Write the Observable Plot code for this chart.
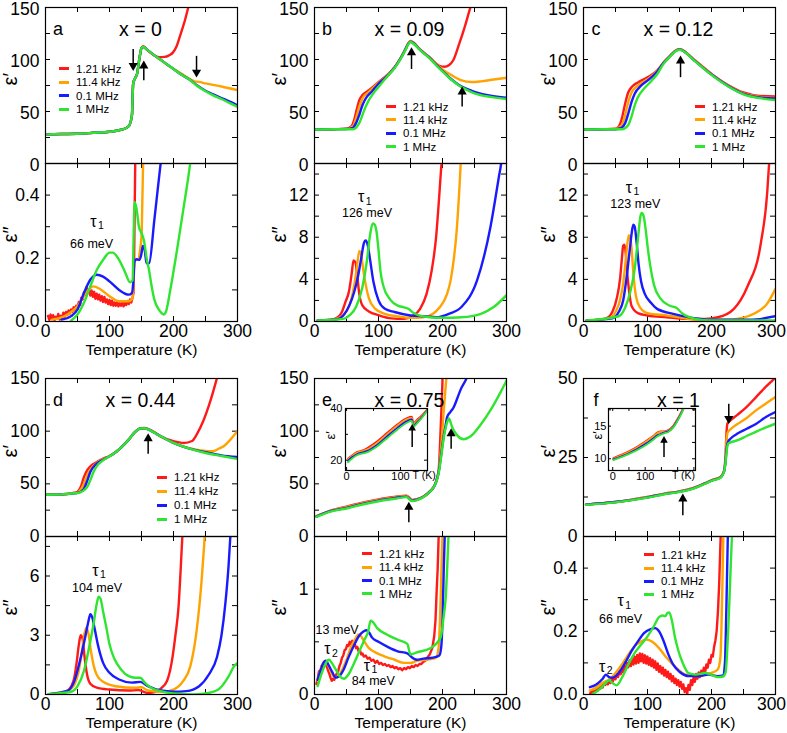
<!DOCTYPE html>
<html>
<head>
<meta charset="utf-8">
<script src="https://cdn.jsdelivr.net/npm/d3@7"></script>
<script src="https://cdn.jsdelivr.net/npm/@observablehq/plot@0.6"></script>
<style>
  body { margin: 0; background: #fff; }
  #fig { position: relative; width: 787px; height: 733px; font-family: "Liberation Sans", Arial, sans-serif; }
  #fig svg { position: absolute; overflow: visible; }
  .leg { position: absolute; height: 14px; line-height: 14px; font-size: 11.5px; white-space: nowrap; color: #000; }
  .leg span { display: inline-block; width: 10px; height: 3px; vertical-align: middle; margin-right: 7px; position: relative; top: -1px; }
</style>
</head>
<body>
<div id="fig"></div>
<script>
// Frequencies and their colours
const FREQS = ["1.21 kHz", "11.4 kHz", "0.1 MHz", "1 MHz"];
const COLORS = ["#ff1a1a", "#ffa300", "#1a1aff", "#2fe52f"];
const PANELS = ["a", "b", "c", "d", "e", "f"];
const TITLES = ["x = 0", "x = 0.09", "x = 0.12", "x = 0.44", "x = 0.75", "x = 1"];

// Axis ticks
const T_MINOR = [0, 50, 100, 150, 200, 250, 300];
const T_LABELS = [0, 100, 200, 300];
const EPS1_MINOR = [0, 25, 50, 75, 100, 125, 150];
const EPS1_LABELS = [0, 50, 100, 150];
const EPS1F_MINOR = [0, 12.5, 25, 37.5, 50];
const EPS1F_LABELS = [0, 25, 50];
const EPS2_SMALL_MINOR = [0, 0.1, 0.2, 0.3, 0.4, 0.5];
const EPS2_SMALL_LABELS = [0, 0.2, 0.4];
const EPS2_BC_MINOR = [0, 2, 4, 6, 8, 10, 12, 14];
const EPS2_BC_LABELS = [0, 4, 8, 12];
const EPS2_D_MINOR = [0, 1.5, 3, 4.5, 6, 7.5];
const EPS2_D_LABELS = [0, 3, 6];
const EPS2_E_MINOR = [0, 0.5, 1, 1.5];
const EPS2_E_LABELS = [0, 1];

// ---- x = 0 ----  each entry: [T (K), value]; order 1.21 kHz, 11.4 kHz, 0.1 MHz, 1 MHz
const aPrime = [
  [[3,28],[25,28.3],[50,28.6],[75,29.5],[100,30.5],[120,32.7],[130,35.8],[135,46],[137,77],[140,82],[143,86],[147,102],[150,111],[152.5,112.8],[160,108.5],[170,104],[178,102.2],[186,102.5],[193,104],[199,106.6],[205,113],[210,122.3],[214,130],[218,138],[223,150],[228,162]],
  [[3,28],[25,28.3],[50,28.6],[75,29.5],[100,30.5],[120,32.7],[130,35.8],[135,46],[137,77],[140,82],[143,86],[147,102],[150,111],[152.5,112.3],[160,108.8],[170,104],[180,99.7],[190,95.2],[200,91],[212,86.5],[225,81.5],[233,79],[240,78.5],[250,77],[275,74],[300,70.5]],
  [[3,28],[25,28.3],[50,28.6],[75,29.5],[100,30.5],[120,32.7],[130,35.8],[135,46],[137,77],[140,82],[143,86],[147,102],[150,111],[152.5,112],[160,108.8],[170,104],[180,99.7],[190,95.2],[200,90.9],[212,85.5],[225,80.8],[236,75.5],[250,70],[262,66.5],[275,63],[288,59.5],[300,56]],
  [[3,28],[25,28.3],[50,28.6],[75,29.5],[100,30.5],[120,32.7],[130,35.8],[135,46],[137,77],[140,82],[143,86],[147,102],[150,111],[152.5,112],[160,108.8],[170,104],[180,99.7],[190,95.2],[200,90.9],[212,85.5],[225,80.8],[236,75],[250,69.5],[262,65.5],[275,62],[288,58],[300,54.4]]
];
const aSecond = [
  [[4,0.018],[6,0.005],[8,0.022],[10,0.008],[12,0.02],[14,0.004],[16,0.015],[18,0.01],[20,0.024],[22,0.006],[24,0.018],[26,0.012],[28,0.028],[30,0.015],[32,0.03],[34,0.02],[36,0.035],[38,0.025],[40,0.038],[42,0.03],[44,0.045],[46,0.035],[48,0.05],[50,0.045],[52,0.062],[54,0.052],[56,0.075],[58,0.07],[60,0.092],[62,0.085],[64,0.108],[66,0.09],[68,0.1],[70,0.082],[72,0.098],[74,0.078],[76,0.094],[78,0.072],[80,0.088],[82,0.07],[84,0.085],[86,0.066],[88,0.08],[90,0.062],[92,0.078],[94,0.06],[96,0.07],[98,0.055],[100,0.068],[102,0.052],[104,0.066],[106,0.05],[108,0.06],[110,0.05],[112,0.062],[114,0.048],[116,0.058],[118,0.05],[120,0.06],[122,0.048],[124,0.062],[126,0.052],[128,0.065],[130,0.055],[132,0.07],[134,0.06],[136,0.075],[137.5,0.09],[138.5,0.2],[139.5,0.38],[140.5,0.55]],
  [[10,0.006],[20,0.01],[30,0.017],[40,0.03],[50,0.048],[58,0.075],[65,0.095],[75,0.111],[85,0.103],[100,0.08],[115,0.064],[130,0.064],[136,0.074],[138.5,0.17],[141,0.195],[145,0.197],[148,0.23],[150,0.27],[151.5,0.4],[153,0.55]],
  [[25,0.006],[40,0.017],[50,0.038],[60,0.09],[70,0.132],[80,0.148],[90,0.142],[100,0.127],[115,0.1],[130,0.085],[135,0.09],[137,0.12],[139,0.19],[142,0.197],[147,0.195],[150,0.215],[152,0.239],[155,0.226],[158,0.184],[162,0.185],[170,0.32],[176,0.43],[181,0.52]],
  [[40,0.003],[50,0.022],[60,0.059],[70,0.111],[80,0.163],[90,0.195],[100,0.218],[105,0.218],[115,0.195],[125,0.153],[132,0.124],[136,0.13],[138,0.3],[139,0.378],[142,0.36],[146,0.3],[150,0.28],[154,0.255],[158,0.2],[162,0.16],[166,0.11],[170,0.07],[177,0.038],[185,0.022],[188,0.03],[195,0.1],[205,0.22],[215,0.35],[226,0.5],[229,0.55]]
];

// ---- x = 0.09 ----
const bPrime = [
  [[2,32.7],[30,33],[50,33.5],[58,36],[62,42],[66,52],[70,61],[75,65.8],[85,70.5],[100,78.3],[115,86],[125,92.5],[135,101.9],[142,110],[147,116],[150,117.8],[154,116.5],[165,109.7],[180,101.9],[195,94],[203,93],[210,94.5],[217,99.5],[225,113],[235,131.8],[243,149],[250,162]],
  [[2,32.7],[30,33],[50,33.3],[60,35.8],[65,43.7],[70,54.7],[75,62.5],[85,68.9],[100,77.5],[115,85.5],[125,92.2],[135,101.7],[142,109.8],[147,115.8],[150,117.5],[154,116.3],[165,109.5],[180,101.7],[190,96],[200,90.5],[215,84.6],[230,79.9],[245,78.3],[260,79],[280,80.8],[300,82.4]],
  [[2,32.7],[30,33],[50,33.2],[60,34.3],[65,39],[70,46.9],[75,56.3],[80,62.5],[90,69.5],[100,76.7],[115,85],[125,92],[135,101.5],[142,109.5],[147,115.5],[150,117.2],[154,116],[165,109.3],[180,101.5],[190,95],[200,89],[212,82],[225,75.8],[237,72],[250,68.9],[275,65.1],[300,63.2]],
  [[2,32.7],[30,33],[50,33],[60,33],[65,34.6],[70,38.9],[75,46.9],[80,54.7],[85,61],[90,65.8],[100,73.6],[115,84.6],[125,91.5],[135,101],[142,109],[147,115],[150,116.8],[154,115.5],[165,109],[180,101],[190,94.5],[200,88.5],[212,81.5],[225,75.3],[237,71],[250,67.5],[275,64],[300,62]]
];
const bSecond = [
  [[5,0.1],[25,0.15],[35,0.35],[42,0.8],[48,1.8],[54,2.9],[58,4.5],[61,5.8],[64,5.6],[67,4.2],[70,2.6],[75,1.5],[85,0.95],[100,0.6],[120,0.3],[140,0.25],[155,0.57],[165,1.2],[175,2.6],[183,4.8],[190,8],[195,12],[199,15.5],[201,17]],
  [[5,0.1],[30,0.2],[40,0.4],[50,0.95],[57,2],[62,3.4],[66,5],[70,6.7],[73,6.3],[76,5],[80,3.5],[85,2.2],[95,1.2],[110,0.73],[130,0.48],[150,0.35],[170,0.4],[185,0.73],[195,1.3],[207,2.6],[213,4],[218,6.1],[222,8.5],[226,12.2],[229,15.5],[231,17]],
  [[5,0.1],[35,0.2],[45,0.57],[55,1.6],[62,2.8],[68,4.3],[73,6],[77,7.4],[80,7.7],[83,7.3],[87,5.8],[92,3.8],[100,2],[110,1.2],[125,0.9],[150,0.57],[175,0.48],[190,0.4],[210,0.73],[230,1.4],[254,3.9],[275,9],[288,13.7],[292,15.2],[294,16.5]],
  [[5,0.1],[45,0.25],[55,0.6],[65,1.4],[75,3.3],[82,5.8],[87,8.3],[91,9.3],[94,9.2],[97,8.5],[100,6.8],[103,4.8],[108,3.3],[118,2.1],[130,1.5],[140,1.35],[147,1.2],[155,0.8],[165,0.55],[180,0.4],[200,0.35],[230,0.4],[260,0.73],[280,1.37],[300,2.5]]
];

// ---- x = 0.12 ----
const cPrime = [
  [[2,32.7],[30,33],[50,33.5],[55,35.5],[60,43.4],[65,57.5],[70,68.5],[75,73.3],[85,78],[100,82.9],[115,89.3],[125,97.1],[135,103.5],[145,109.1],[150,110],[155,109],[160,106.8],[175,98.8],[200,86.2],[225,75.8],[250,68.3],[275,65],[300,64.5]],
  [[2,32.7],[30,33],[50,33.2],[55,34.5],[60,37.1],[65,46.5],[70,59],[75,68],[85,74.9],[100,81],[115,88.8],[125,96.8],[135,103.3],[145,108.9],[150,109.8],[155,108.8],[160,106.6],[175,98.5],[200,85.8],[225,75.2],[250,67.5],[275,64],[300,63]],
  [[2,32.7],[30,33],[50,33],[55,33.5],[60,34.6],[65,38.7],[70,48.1],[75,59],[80,67],[90,74.9],[100,79.7],[115,88.3],[125,96.5],[135,103.1],[145,108.7],[150,109.6],[155,108.6],[160,106.4],[175,98.2],[200,85.5],[225,74.9],[250,67],[275,63.5],[300,62.5]],
  [[2,32.7],[30,33],[50,33],[60,33],[70,37.1],[75,45],[80,56],[85,63.7],[95,72.3],[105,78.6],[115,85.8],[125,95.8],[135,102.8],[145,108.5],[150,109.4],[155,108.4],[160,106.2],[175,98],[200,85.2],[225,74.5],[250,66.5],[275,62.8],[300,61]]
];
const cSecond = [
  [[5,0.1],[35,0.3],[45,0.9],[52,2.2],[57,4],[60,6],[62,7.2],[64,7.3],[66,6.5],[68,4.8],[71,3],[75,1.5],[85,0.8],[100,0.57],[130,0.4],[160,0.25],[190,0.25],[210,0.4],[235,1.2],[256,3.3],[277,7.4],[287,12.2],[290,15],[292,16.5]],
  [[5,0.1],[40,0.3],[50,0.9],[57,2],[62,3.6],[66,5.8],[69,7.6],[71,8.2],[73,8],[75,7],[78,4.5],[82,2.4],[88,1.37],[100,0.8],[130,0.57],[150,0.4],[175,0.16],[220,0.16],[240,0.25],[266,0.73],[287,1.7],[300,3.1]],
  [[5,0.1],[45,0.3],[55,0.9],[62,2],[68,4.5],[73,7.2],[76,8.7],[78,9.2],[80,9],[83,7.5],[86,5.5],[90,3.8],[96,2.6],[105,1.8],[115,1.2],[140,0.73],[170,0.35],[200,0.16],[260,0.16],[300,0.5]],
  [[5,0.1],[55,0.5],[65,1.3],[73,2.8],[80,5],[85,7.8],[89,10],[91,10.3],[94,10],[97,8.8],[100,7.2],[104,5.4],[110,3.5],[120,2.2],[135,1.5],[145,1.3],[155,0.73],[175,0.25],[200,0.1],[300,0.1]]
];

// ---- x = 0.44 ----
const dPrime = [
  [[2,39.6],[25,40],[45,41.5],[50,42.5],[55,46.9],[60,56.4],[65,62.8],[70,66.6],[80,70.7],[90,73.9],[100,76.4],[110,80.2],[120,85.6],[130,92],[140,99.3],[148,102.8],[155,103],[165,100.8],[180,95.1],[200,90.5],[216,88.8],[229,90.7],[237,97.7],[247,110.4],[258,129.4],[267,148.4],[272,160]],
  [[2,39.6],[25,40],[45,41.2],[50,42],[55,44.4],[60,50.1],[65,58],[70,63.4],[80,69.8],[90,73.6],[100,76.2],[110,80.2],[120,85.6],[130,92],[140,99.3],[148,102.7],[155,102.9],[165,100.6],[180,95.1],[200,88.8],[220,84.5],[242,81.8],[255,81],[263,81.2],[271,83.5],[279,86],[289,92],[300,100.2]],
  [[2,39.6],[25,40],[45,41],[50,41.5],[55,42.5],[60,45.3],[65,52.6],[70,61.2],[80,69.1],[90,72.9],[100,76.1],[110,80.2],[120,85.6],[130,92],[140,99.3],[148,102.5],[155,102.7],[165,100.3],[180,95.1],[200,88.8],[225,83.4],[250,80],[275,77],[300,75.5]],
  [[2,39.6],[25,40],[45,41],[50,41.2],[55,42.2],[60,43.8],[65,47],[70,53.3],[75,61.2],[80,66.6],[90,72.3],[100,76.1],[110,80.2],[120,85.6],[130,92],[140,99.3],[148,102.5],[155,102.7],[165,100.2],[180,95.1],[200,88.8],[225,83.4],[250,79.3],[275,76.4],[300,73.6]]
];
const dSecond = [
  [[25,0],[33,0.15],[40,0.4],[45,0.85],[49,1.7],[52,2.5],[55,3],[58,2.8],[61,1.9],[65,1.0],[70,0.55],[80,0.35],[100,0.25],[130,0.2],[145,0.22],[160,0.08],[170,0.12],[180,0.3],[190,0.7],[197,1.6],[203,3],[208,4.5],[211,6.2],[214,8.1],[216,9]],
  [[5,0.02],[35,0.2],[45,0.5],[52,1.2],[57,2.2],[61,3.1],[64,3.4],[67,3.1],[71,2.2],[75,1.5],[80,1.0],[90,0.64],[110,0.42],[140,0.34],[150,0.37],[160,0.2],[185,0.14],[200,0.25],[215,0.68],[226,1.4],[236,3.2],[244,5.8],[249,8.1],[251,9]],
  [[5,0.02],[35,0.2],[45,0.68],[55,1.86],[62,2.9],[67,3.7],[70,4.07],[73,3.9],[77,3.3],[82,2.5],[90,1.6],[100,1.1],[115,0.76],[135,0.6],[148,0.64],[160,0.42],[180,0.2],[200,0.14],[220,0.17],[240,0.42],[255,1.0],[268,1.9],[275,3.0],[281,4.6],[286,6.5],[289,8.1],[291,9]],
  [[5,0.02],[40,0.14],[50,0.42],[60,1.19],[68,2.37],[75,3.56],[80,4.58],[83,4.95],[86,4.85],[90,4.2],[95,3.4],[100,2.54],[108,1.78],[118,1.27],[130,0.93],[140,0.85],[148,0.85],[155,0.6],[165,0.34],[180,0.17],[200,0.05],[230,0.0],[250,0.05],[270,0.25],[285,0.85],[295,1.44],[300,1.6]]
];

// ---- x = 0.75 ----
const ePrime = [
  [[3,19.3],[25,24.6],[50,28.3],[75,32.2],[100,35.3],[125,37.5],[144,38.8],[148,37],[152,34.8],[160,35.5],[171,38.3],[181,43.3],[189,50.5],[194,63],[197,100],[199.5,140],[201,165]],
  [[3,19.1],[25,24.3],[50,27.8],[75,31.6],[100,34.7],[125,37],[144,38.4],[148,36.5],[152,34.5],[160,35.2],[171,38.1],[181,43.2],[189,50.3],[194,62],[198,85],[202,120],[206,150],[208,165]],
  [[3,18.9],[25,24],[50,27.2],[75,31],[100,34.1],[125,36.4],[144,37.9],[148,36],[152,34.1],[160,34.9],[171,38],[181,43.1],[189,50.1],[194,61],[198,78],[202,96],[205,106],[207.3,113.5],[212.5,118.3],[217.7,123],[223,131],[228,139],[238.5,151.6],[241,156]],
  [[3,18.6],[25,23.6],[50,26.6],[75,30.4],[100,33.5],[125,35.8],[144,37.4],[148,35.6],[152,33.7],[160,34.6],[171,37.8],[181,43],[189,50],[194,60],[198,76],[202,94],[206,106],[210,112],[215,104],[223,96],[233,92.3],[244,95.1],[259,105.6],[275,119.9],[291,137.3],[300,148]]
];
const eInset = [
  [[2.5,20.6],[10,21.8],[20,23.2],[30,23.8],[38.5,24.7],[57,27.3],[75.5,30.6],[94,33.8],[112,36.3],[121,36.8],[124,34.3],[130,35.5],[139.5,37.3],[149,39.6]],
  [[2.5,20.3],[10,21.5],[20,22.9],[30,23.5],[38.5,24.2],[57,26.8],[75.5,30.1],[94,33.3],[112,35.9],[121,36.4],[124,33.9],[130,35.1],[139.5,37],[149,39.4]],
  [[2.5,19.8],[10,21.1],[20,22.4],[30,23],[38.5,23.6],[57,26],[75.5,29.3],[94,32.5],[112,35.1],[121,35.8],[124,33.2],[130,34.5],[139.5,36.6],[149,39.2]],
  [[2.5,19.2],[10,20.6],[20,22],[30,22.6],[38.5,23.1],[57,25.4],[75.5,28.6],[94,31.8],[112,34.5],[121,35.2],[124,32.8],[130,34.1],[139.5,36.3],[149,39]]
];
const eSecond = [
  [[3,0.1],[5,0.15],[7,0.22],[9,0.2],[11,0.27],[13,0.25],[15,0.31],[17,0.28],[19,0.27],[21,0.23],[23,0.2],[25,0.16],[27,0.13],[29,0.15],[31,0.14],[33,0.18],[35,0.2],[37,0.22],[39,0.27],[41,0.3],[43,0.35],[45,0.37],[47,0.42],[49,0.43],[51,0.47],[53,0.46],[55,0.5],[57,0.48],[59,0.51],[61,0.47],[63,0.48],[65,0.44],[67,0.45],[69,0.41],[71,0.42],[73,0.38],[75,0.39],[77,0.36],[80,0.37],[83,0.34],[86,0.35],[89,0.32],[92,0.33],[95,0.3],[98,0.32],[101,0.29],[104,0.3],[107,0.28],[110,0.29],[113,0.27],[116,0.28],[119,0.26],[122,0.27],[125,0.25],[128,0.26],[131,0.24],[134,0.25],[137,0.23],[140,0.25],[143,0.24],[146,0.26],[149,0.25],[152,0.27],[155,0.26],[158,0.28],[161,0.27],[164,0.29],[167,0.29],[170,0.31],[173,0.32],[176,0.35],[180,0.38],[184,0.44],[187,0.55],[189,0.7],[191,1.0],[192.5,1.2],[194,1.5],[195,1.6]],
  [[5,0.13],[10,0.25],[15,0.31],[18,0.31],[22,0.27],[27,0.2],[32,0.16],[37,0.17],[43,0.23],[50,0.33],[57,0.45],[63,0.52],[69,0.57],[72,0.56],[77,0.51],[85,0.44],[95,0.4],[110,0.36],[125,0.33],[140,0.3],[150,0.3],[160,0.32],[175,0.33],[185,0.34],[190,0.35],[194,0.45],[196,0.7],[198,1.1],[200,1.5],[201,1.6]],
  [[5,0.14],[10,0.24],[15,0.31],[18,0.32],[22,0.28],[28,0.21],[33,0.16],[38,0.17],[45,0.23],[53,0.35],[62,0.47],[70,0.56],[77,0.6],[81,0.61],[85,0.59],[90,0.54],[100,0.5],[115,0.45],[130,0.41],[145,0.39],[155,0.34],[160,0.33],[170,0.34],[185,0.35],[195,0.37],[198,0.45],[200,0.7],[202,1.2],[204,1.6]],
  [[5,0.08],[10,0.18],[15,0.26],[20,0.32],[23,0.33],[27,0.3],[33,0.24],[40,0.17],[46,0.15],[53,0.19],[62,0.3],[70,0.41],[78,0.52],[84,0.6],[87.5,0.7],[91,0.69],[98,0.63],[113,0.57],[130,0.52],[145,0.48],[150,0.38],[160,0.4],[181,0.44],[197,0.54],[202,0.75],[205,0.92],[208,1.3],[210,1.6]]
];

// ---- x = 1 ----
const fPrime = [
  [[4,10.1],[50,10.9],[100,12.5],[125,13.5],[150,14.3],[175,15.6],[190,16.9],[200,17.8],[214,18.8],[220,20.9],[222,26],[223.5,33],[225,35.8],[230,36.8],[240,38.4],[255,41],[270,44.2],[285,47.4],[300,50.3]],
  [[4,10.1],[50,10.9],[100,12.5],[125,13.5],[150,14.3],[175,15.6],[190,16.9],[200,17.8],[214,18.8],[220,20.9],[222,25],[223.5,30.5],[225,32.8],[230,34],[240,35.5],[255,37.5],[270,40],[285,42.1],[300,44.2]],
  [[4,10.1],[50,10.9],[100,12.4],[125,13.4],[150,14.2],[175,15.5],[190,16.8],[200,17.7],[214,18.7],[220,20.9],[222,24],[224,28.5],[226,30],[230,31],[240,32.5],[255,34.1],[270,35.7],[285,37.8],[300,39.4]],
  [[4,10],[50,10.8],[100,12.3],[125,13.3],[150,14.1],[175,15.4],[190,16.7],[200,17.6],[214,18.6],[220,20.8],[222,23.5],[224,27.5],[226,29.4],[230,29.8],[240,30.4],[255,31.8],[270,33.2],[285,34.5],[300,35.7]]
];
const fInset = [
  [[2,10.1],[53,11.2],[105,12.8],[125,13.5],[137,14],[148,14.2],[158,14.2],[171,14.4],[187,15.1],[203,16.4],[218,17.9],[225,18.8]],
  [[2,10],[53,11.1],[105,12.7],[125,13.4],[137,13.9],[148,14.1],[158,14.1],[171,14.3],[187,15],[203,16.3],[218,17.8],[225,18.7]],
  [[2,9.9],[53,10.9],[105,12.4],[125,13.1],[137,13.6],[148,13.8],[158,14],[171,14.2],[187,14.9],[203,16.2],[218,17.7],[225,18.6]],
  [[2,9.8],[53,10.8],[105,12.2],[125,12.9],[137,13.4],[148,13.7],[158,13.9],[171,14.1],[187,14.8],[203,16.1],[218,17.6],[225,18.5]]
];
const fSecond = [
  [[10,0.0],[12,0.012],[14,0.005],[16,0.018],[18,0.008],[20,0.022],[22,0.012],[24,0.028],[26,0.018],[28,0.032],[30,0.022],[32,0.038],[34,0.03],[36,0.042],[38,0.032],[40,0.046],[42,0.036],[44,0.052],[46,0.042],[48,0.058],[50,0.048],[52,0.066],[54,0.055],[56,0.075],[58,0.064],[60,0.082],[62,0.07],[64,0.09],[66,0.078],[68,0.1],[70,0.086],[72,0.108],[74,0.09],[76,0.115],[78,0.095],[80,0.12],[82,0.098],[84,0.125],[86,0.1],[88,0.13],[90,0.105],[92,0.128],[94,0.1],[96,0.124],[98,0.098],[100,0.12],[102,0.094],[104,0.115],[106,0.09],[108,0.11],[110,0.085],[112,0.105],[114,0.078],[116,0.098],[118,0.072],[120,0.09],[122,0.066],[124,0.085],[126,0.06],[128,0.078],[130,0.055],[132,0.072],[134,0.05],[136,0.065],[138,0.042],[140,0.058],[142,0.036],[144,0.05],[146,0.03],[148,0.045],[150,0.025],[152,0.04],[154,0.018],[156,0.032],[158,0.008],[160,0.02],[162,0.002],[164,0.03],[166,0.015],[168,0.045],[170,0.03],[172,0.055],[174,0.04],[176,0.065],[178,0.05],[180,0.07],[182,0.055],[184,0.075],[186,0.06],[188,0.085],[190,0.07],[192,0.095],[194,0.085],[196,0.11],[198,0.1],[200,0.125],[202,0.12],[204,0.15],[206,0.17],[208,0.2],[210,0.26],[212,0.35],[214,0.48],[215,0.55]],
  [[10,0.013],[20,0.021],[30,0.037],[40,0.047],[50,0.068],[60,0.095],[70,0.126],[80,0.153],[90,0.168],[98,0.174],[110,0.163],[120,0.142],[130,0.116],[145,0.084],[160,0.063],[175,0.061],[190,0.065],[200,0.068],[210,0.08],[214,0.12],[216,0.25],[218,0.45],[219,0.55]],
  [[10,0.023],[20,0.032],[30,0.05],[35,0.063],[40,0.055],[45,0.053],[55,0.068],[65,0.1],[75,0.137],[85,0.168],[95,0.195],[105,0.207],[112,0.21],[118,0.2],[125,0.17],[132,0.13],[140,0.095],[150,0.072],[165,0.058],[180,0.058],[195,0.063],[210,0.058],[218,0.06],[221,0.1],[223,0.25],[225,0.45],[226,0.55]],
  [[15,0.002],[25,0.016],[35,0.037],[40,0.045],[45,0.037],[52,0.029],[60,0.053],[70,0.095],[80,0.132],[90,0.158],[100,0.184],[110,0.216],[118,0.245],[124,0.25],[128,0.248],[131,0.258],[134,0.26],[138,0.235],[143,0.18],[148,0.14],[154,0.105],[164,0.068],[175,0.063],[190,0.068],[200,0.062],[210,0.055],[218,0.057],[222,0.07],[226,0.2],[229,0.35],[232,0.5],[234,0.56]]
];

// Arrows marking transitions: [T, tail value, head value]
const aArrows = [[137,110,94],[153.6,80,94],[236,103.5,87.7]];
const bArrows = [[151.6,90.9,106.6],[230.7,54.7,68.9]];
const cArrows = [[151.6,83,98.8]];
const dArrows = [[160.4,78.6,92.9]];
const eArrows = [[147.4,13.6,27.9],[213.5,83.4,97.7]];
const fArrows = [[227,42,37.3],[155.2,6.7,11.9]];
const eInsetArrows = [[121.6,25.1,32.3]];
const fInsetArrows = [[158,10.25,12.8]];

// Relaxation labels: [T, value, subscript] and [T, value, activation energy]
const aTau = [[75,0.315,"1"]], aEnergy = [[72,0.245,"66 meV"]];
const bTau = [[73,11.8,"1"]], bEnergy = [[82,10.3,"126 meV"]];
const cTau = [[71,12.7,"1"]], cEnergy = [[81,11.2,"123 meV"]];
const dTau = [[78,6.25,"1"]], dEnergy = [[80.5,5.4,"104 meV"]];
const eTau = [[20,0.43,"2"],[82,0.27,"1"]], eEnergy = [[35.4,0.61,"13 meV"],[92,0.125,"84 meV"]];
const fTau = [[29,0.089,"2"],[58,0.295,"1"]], fEnergy = [[58,0.24,"66 meV"]];

const FONT = "'Liberation Sans', Arial, Helvetica, sans-serif";
const FW = 192, FH = 158;
const COL_X = [45, 314, 583];
const fig = document.getElementById("fig");

function subplot(s) {
  const W = s.fw ?? FW, H = s.fh ?? FH;
  const mL = 60, mR = 12, mT = 12, mB = 50;
  const tick = s.tick ?? 5;
  const fs = s.fs ?? 17.5;
  const k = {stroke: "black", strokeWidth: 1};
  const marks = [];
  if (s.background) marks.push(Plot.frame({fill: "white", stroke: null}));
  marks.push(
    Plot.tickX(s.xMinor, {x: d => d, insetTop: H - tick, ...k}),
    Plot.tickX(s.xMinor, {x: d => d, insetBottom: H - tick, ...k}),
    Plot.tickY(s.yMinor, {y: d => d, insetRight: W - tick, ...k}),
    Plot.tickY(s.yMinor, {y: d => d, insetLeft: W - tick, ...k})
  );
  s.curves.forEach((pts, i) => {
    marks.push(Plot.line(pts, {
      x: d => d[0], y: d => d[1], stroke: COLORS[i], strokeWidth: s.lw ?? 2.4,
      curve: (s.noisy && s.noisy[i]) ? "linear" : "monotone-x", clip: true
    }));
  });
  marks.push(Plot.frame({stroke: "black", strokeWidth: 1.2}));
  marks.push(Plot.axisY({ticks: s.yLabels, tickSize: 0, tickPadding: s.yPad ?? 6, dy: s.yLabelDy ?? 0, tickFormat: s.yFormat ?? (d => String(d)), fontSize: fs, label: null}));
  if (s.xLabels) {
    // the last label of the right-hand column is nudged so it stays on the page
    const main = s.xLastDx ? s.xLabels.slice(0, -1) : s.xLabels;
    marks.push(Plot.axisX({ticks: main, tickSize: 0, tickPadding: s.xPad ?? 3, tickFormat: d => String(d), fontSize: fs, label: null}));
    if (s.xLastDx) marks.push(Plot.axisX({ticks: s.xLabels.slice(-1), tickSize: 0, tickPadding: s.xPad ?? 3, dx: s.xLastDx, tickFormat: d => String(d), fontSize: fs, label: null}));
  }
  if (s.yTitle) marks.push(Plot.text([s.yTitle], {text: d => d, frameAnchor: "left", dx: s.yTitleDx ?? -35, rotate: -90, fontSize: s.yTitleSize ?? 20}));
  if (s.xTitle) marks.push(Plot.text([s.xTitle], {text: d => d, frameAnchor: "bottom", dy: 33, fontSize: 15.5}));
  if (s.letter) marks.push(Plot.text([s.letter], {text: d => d, frameAnchor: "top-left", textAnchor: "middle", dx: 12.5, dy: s.titleDy, fontSize: 18}));
  if (s.title) marks.push(Plot.text([s.title], {text: d => d, frameAnchor: "top-left", textAnchor: "middle", dx: 95, dy: s.titleDy, fontSize: 19.5}));
  if (s.tau) {
    marks.push(Plot.text(s.tau, {x: d => d[0], y: d => d[1], text: () => "τ", fontSize: 16}));
    marks.push(Plot.text(s.tau, {x: d => d[0], y: d => d[1], text: d => d[2], fontSize: 10.5, dx: 7.5, dy: 4}));
  }
  if (s.energy) marks.push(Plot.text(s.energy, {x: d => d[0], y: d => d[1], text: d => d[2], fontSize: 12.5}));
  if (s.arrows) {
    marks.push(Plot.link(s.arrows, {x1: d => d[0], x2: d => d[0], y1: d => d[1], y2: d => d[2], stroke: "black", strokeWidth: 1.5}));
    marks.push(Plot.dot(s.arrows, {x: d => d[0], y: d => d[2], symbol: "triangle", r: s.headR ?? 3.4, fill: "black", stroke: null, rotate: d => d[2] > d[1] ? 0 : 180}));
  }
  if (s.extra) marks.push(...s.extra);
  const svg = Plot.plot({
    width: W + mL + mR, height: H + mT + mB,
    marginLeft: mL, marginRight: mR, marginTop: mT, marginBottom: mB,
    x: {domain: s.xDomain ?? [0, 300], axis: null},
    y: {domain: s.yDomain, axis: null},
    style: {fontFamily: FONT, fontSize: fs + "px", background: "transparent", overflow: "visible", color: "black"},
    marks
  });
  svg.style.left = (s.left - mL) + "px";
  svg.style.top = (s.top - mT) + "px";
  fig.appendChild(svg);
}

function legend(x, y0, step) {
  FREQS.forEach((f, i) => {
    const div = document.createElement("div");
    div.className = "leg";
    div.style.left = x + "px";
    div.style.top = (y0 + i * step - 7) + "px";
    const sw = document.createElement("span");
    sw.style.background = COLORS[i];
    div.appendChild(sw);
    div.appendChild(document.createTextNode(f));
    fig.appendChild(div);
  });
}

const fmt1 = d => d3.format(".1f")(d);
// Row 1 upper plots start a little lower so their top tick label stays on the page
const ROWS = [{top: 7, fh: 156, split: 163}, {top: 378, fh: 158, split: 536}];

const panels = [
  {prime: aPrime, second: aSecond, arrows: aArrows, tau: aTau, energy: aEnergy, yD2: [0, 0.5], m2: EPS2_SMALL_MINOR, l2: EPS2_SMALL_LABELS, f2: fmt1, noisy: [true, false, false, false]},
  {prime: bPrime, second: bSecond, arrows: bArrows, tau: bTau, energy: bEnergy, yD2: [0, 15], m2: EPS2_BC_MINOR, l2: EPS2_BC_LABELS},
  {prime: cPrime, second: cSecond, arrows: cArrows, tau: cTau, energy: cEnergy, yD2: [0, 15], m2: EPS2_BC_MINOR, l2: EPS2_BC_LABELS},
  {prime: dPrime, second: dSecond, arrows: dArrows, tau: dTau, energy: dEnergy, yD2: [0, 8], m2: EPS2_D_MINOR, l2: EPS2_D_LABELS},
  {prime: ePrime, second: eSecond, arrows: eArrows, tau: eTau, energy: eEnergy, yD2: [0, 1.5], m2: EPS2_E_MINOR, l2: EPS2_E_LABELS, noisy: [true, false, false, false]},
  {prime: fPrime, second: fSecond, arrows: fArrows, tau: fTau, energy: fEnergy, yD2: [0, 0.5], m2: EPS2_SMALL_MINOR, l2: EPS2_SMALL_LABELS, f2: fmt1, noisy: [true, false, false, false], small: true}
];

panels.forEach((p, i) => {
  const left = COL_X[i % 3];
  const row = ROWS[Math.floor(i / 3)];
  subplot({
    left, top: row.top, fh: row.fh, yDomain: p.small ? [0, 50] : [0, 150],
    xMinor: T_MINOR, yMinor: p.small ? EPS1F_MINOR : EPS1_MINOR, yLabels: p.small ? EPS1F_LABELS : EPS1_LABELS,
    yLabelDy: i < 3 ? 2 : 0,
    curves: p.prime, yTitle: "ε′", letter: PANELS[i], title: TITLES[i], titleDy: 15,
    arrows: p.arrows
  });
  subplot({
    left, top: row.split, yDomain: p.yD2,
    xMinor: T_MINOR, xLabels: T_LABELS, xLastDx: i % 3 === 2 ? -4 : 0,
    yMinor: p.m2, yLabels: p.l2, yFormat: p.f2,
    curves: p.second, noisy: p.noisy, yTitle: "ε″", xTitle: "Temperature (K)",
    tau: p.tau, energy: p.energy
  });
});

// Low-temperature insets of ε′
subplot({
  left: 345, top: 408, fw: 82, fh: 62, xDomain: [-2, 150], yDomain: [16, 40],
  xMinor: [0, 50, 100, 150], yMinor: [20, 30, 40], xLabels: [0, 100], yLabels: [20, 40],
  curves: eInset, lw: 1.8, fs: 11, tick: 3, yPad: 3, xPad: 2, background: true,
  yTitle: "ε′", yTitleDx: -15, yTitleSize: 13, arrows: eInsetArrows, headR: 2.8,
  extra: [Plot.text(["T (K)"], {text: d => d, frameAnchor: "bottom-right", dx: -15, dy: 8.5, textAnchor: "start", fontSize: 10.5})]
});
subplot({
  left: 608, top: 408, fw: 87, fh: 62, xDomain: [-13, 255], yDomain: [8.2, 17.7],
  xMinor: [0, 50, 100, 150, 200, 250], yMinor: [10, 12.5, 15, 17.5], xLabels: [0, 100], yLabels: [10, 15],
  curves: fInset, lw: 1.8, fs: 11, tick: 3, yPad: 2, xPad: 2, background: true,
  yTitle: "ε′", yTitleDx: -11, yTitleSize: 13, arrows: fInsetArrows, headR: 2.8,
  extra: [Plot.text(["T (K)"], {text: d => d, frameAnchor: "bottom-right", dx: -12, dy: 8.5, textAnchor: "middle", fontSize: 10.5})]
});

// Frequency legends
legend(59, 69, 13.4);
legend(386, 106.7, 13.3);
legend(695, 106.7, 13.3);
legend(157, 477.3, 14);
legend(362, 554, 13.3);
legend(644, 555, 13.1);
</script>
</body>
</html>
